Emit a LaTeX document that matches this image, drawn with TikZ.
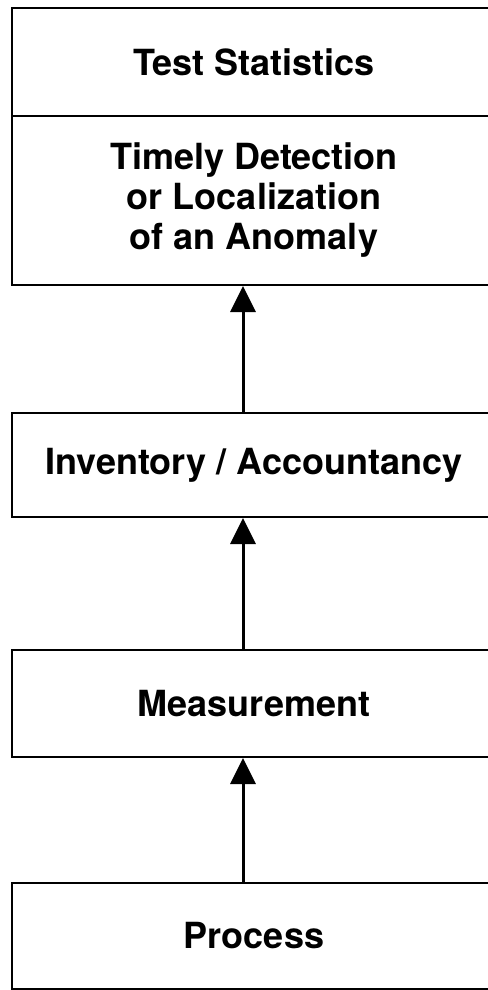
\documentclass[tikz,border=0pt]{standalone}
\usepackage{fontspec}
\setmainfont{TeX Gyre Heros}
\usepackage{tikz}
\usetikzlibrary{arrows.meta}

\begin{document}
\begin{tikzpicture}[
      x=1pt,y=1pt,
      box/.style={draw,line width=2pt,align=center,inner sep=0pt,
                  font=\fontsize{36}{40}\selectfont\bfseries,minimum width=484pt},
      every edge/.style={draw,line width=3pt,-{Triangle[width=25pt,length=26pt]}}]

    \useasboundingbox (0,0) rectangle (487,-990);

    \node[box,minimum height=108pt] (stats) at (254,-62) {Test Statistics};
    \node[box,minimum height=169pt] (detect) at (254,-200.5)
      {Timely Detection\\or Localization\\of an Anomaly};
    \node[box,minimum height=104pt] (inv) at (254,-465) {Inventory / Accountancy};
    \node[box,minimum height=107pt] (meas) at (254,-703.5) {Measurement};
    \node[box,minimum height=106pt] (proc) at (254,-936) {Process};

    \draw ([xshift=-11pt]inv.north) edge ([xshift=-11pt]detect.south);
    \draw ([xshift=-11pt]meas.north) edge ([xshift=-11pt]inv.south);
    \draw ([xshift=-11pt]proc.north) edge ([xshift=-11pt]meas.south);
  \end{tikzpicture}
\end{document}
